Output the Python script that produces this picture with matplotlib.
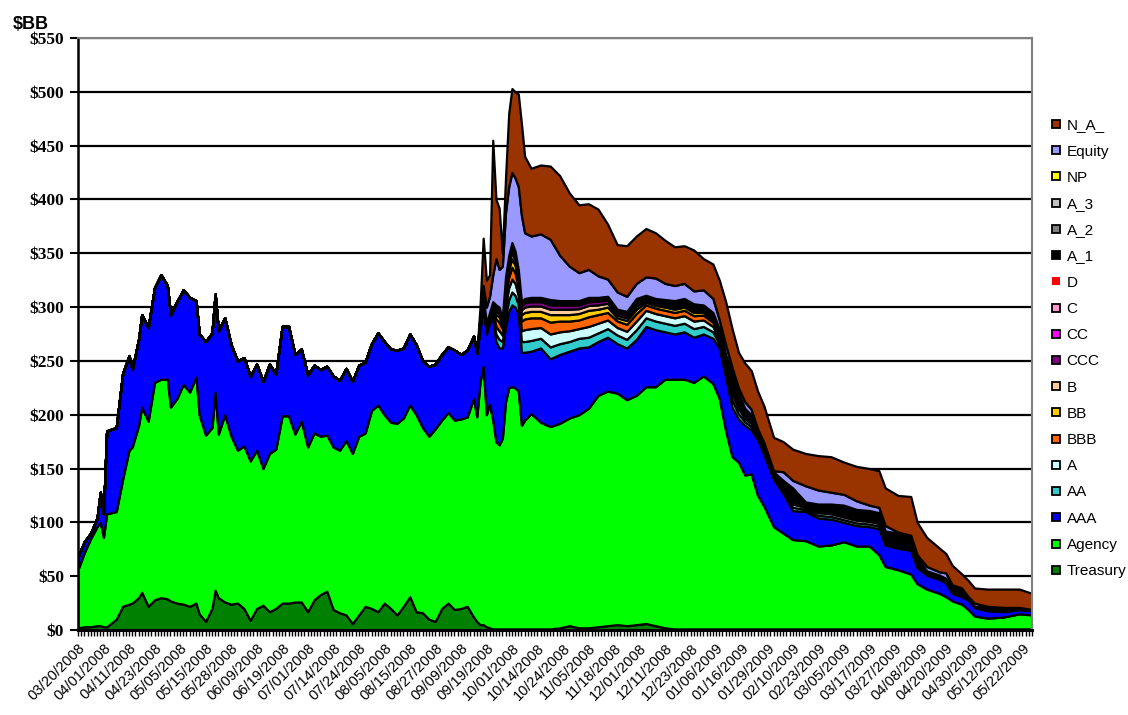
import numpy as np
import matplotlib
matplotlib.use("Agg")
import matplotlib.pyplot as plt
from matplotlib.lines import Line2D

# business-day number (0 = 03/20/2008) of each sampled point
day = [0, 2, 4, 6, 7, 8, 9, 12, 14, 16, 17, 19, 20, 22, 24, 26, 28, 29,
       31, 33, 35, 37, 38, 40, 42, 43, 44, 46, 48,
       50, 52, 54, 56, 58, 60, 62, 64, 66, 68, 70, 72, 74, 76, 78, 80, 82, 84, 86,
       88, 90, 92, 94, 96, 98, 100, 102, 104, 106, 108, 110, 112, 114, 116, 118, 120, 122,
       124, 125, 126, 127, 128, 129, 130, 131, 132, 133, 134, 135, 136, 137, 138, 139, 140,
       142, 145, 148, 151, 154, 157, 160, 163, 166, 169, 172, 175, 178, 181, 184, 187,
       190, 193, 196, 199,
       201, 203, 205, 207, 209, 211, 213, 215,
       218, 221, 224,
       228, 232, 236, 240, 244, 248,
       251, 253, 257, 261, 263, 266, 270, 272, 274, 277, 279, 281, 285, 290, 295, 299]
n_days = 300

tick_labels = ["03/20/2008", "04/01/2008", "04/11/2008", "04/23/2008", "05/05/2008",
               "05/15/2008", "05/28/2008", "06/09/2008", "06/19/2008", "07/01/2008",
               "07/14/2008", "07/24/2008", "08/05/2008", "08/15/2008", "08/27/2008",
               "09/09/2008", "09/19/2008", "10/01/2008", "10/14/2008", "10/24/2008",
               "11/05/2008", "11/18/2008", "12/01/2008", "12/11/2008", "12/23/2008",
               "01/06/2009", "01/16/2009", "01/29/2009", "02/10/2009", "02/23/2009",
               "03/05/2009", "03/17/2009", "03/27/2009", "04/08/2009", "04/20/2009",
               "04/30/2009", "05/12/2009", "05/22/2009"]

# $BB, bottom to top
treasury = [2, 3, 3, 4, 4, 3, 3, 10, 22, 24, 25, 30, 35, 22, 28, 30, 29, 27,
            25, 24, 22, 25, 15, 8, 20, 37, 30, 26, 24,
            25, 20, 9, 20, 23, 17, 20, 25, 25, 26, 26, 17, 28, 33, 36, 19, 16, 14, 6,
            14, 22, 20, 17, 25, 20, 14, 22, 31, 17, 16, 10, 8, 20, 25, 19, 20, 22,
            12, 8, 5, 5, 3, 2, 1, 1, 1, 1, 1, 1, 1, 1, 1, 1, 1,
            1, 1, 1, 2, 4, 2, 2, 3, 4, 5, 4, 5, 6, 4, 2, 1, 1, 1, 1, 1,
            1, 1, 1, 1, 1, 1, 1, 1,
            1, 1, 1,
            1, 1, 1, 1, 1, 1,
            1, 1, 1, 1, 1, 1, 1, 1, 1, 1, 1, 1, 1, 1, 1, 1]
agency = [54, 69, 82, 92, 96, 83, 105, 100, 118, 143, 145, 160, 172, 172, 202, 203, 204, 180,
          190, 204, 199, 210, 185, 173, 168, 184, 152, 174, 156,
          142, 151, 148, 147, 127, 147, 148, 174, 174, 156, 168, 153, 155, 147, 145, 151, 151,
          162, 158, 166, 161, 184, 192, 175, 173, 178, 175, 178, 183, 172, 170, 179, 175, 177,
          176, 176, 176,
          203, 190, 225, 240, 197, 208, 194, 174, 171, 177, 211, 224, 225, 224, 221, 189, 194,
          200, 192, 188, 190, 193, 198, 204, 215, 218, 215, 210, 213, 220, 222, 231, 232,
          232, 229, 235, 228,
          214, 184, 160, 155, 143, 144, 124, 114,
          95, 89, 83,
          82, 77, 78, 81, 77, 77,
          69, 58, 55, 51, 42, 37, 33, 30, 26, 23, 18, 12, 10, 11, 14, 13]
aaa = [12, 10, 5, 8, 28, 22, 77, 78, 98, 88, 72, 80, 86, 87, 88, 97, 87, 86,
       90, 88, 88, 71, 75, 87, 88, 91, 96, 90, 85,
       83, 82, 79, 80, 81, 83, 70, 83, 83, 74, 67, 67, 63, 62, 64, 66, 65, 67, 67,
       66, 66, 62, 67, 68, 68, 68, 65, 66, 65, 62, 65, 60, 61, 61, 65, 60, 62,
       58, 59, 50, 55, 75, 75, 95, 93, 90, 84, 70, 71, 76, 75, 72, 68, 63,
       58, 69, 63, 64, 62, 62, 57, 50, 50, 46, 48, 52, 56, 53, 44, 42, 44, 42, 39, 42,
       47, 50, 46, 40, 46, 41, 52, 48,
       44, 37, 27,
       27, 26, 24, 18, 19, 18,
       24, 20, 20, 22, 15, 13, 13, 13, 7, 7, 9, 8, 7, 5, 4, 4]

# the rated / paper buckets only show up from mid-September 2008
pre = [0] * 66
aa = pre + [0, 0, 1, 2, 2, 2, 3, 7, 8, 6, 10, 11, 12, 11, 8.5, 10, 10,
            10, 9, 11, 10, 9, 9, 9, 8, 8, 8, 8, 9, 8, 8, 8, 8, 8, 8, 7, 6,
            4, 5, 7, 5, 3.5, 3, 1.5, 2,
            1.5, 2.5, 3,
            2, 2.5, 2.5, 2.5, 2.5, 2.5,
            2.5, 2, 2, 2, 1.5, 0.7, 0.7, 0.7, 1.2, 1.2, 0.4, 0.2, 0.5, 0.5, 0.2, 0.2]
a = pre + [0, 0, 1, 2, 2, 2, 3, 7, 8, 6, 10, 11, 12, 11, 8.5, 10, 11,
           11, 10, 12, 11, 10, 9, 10, 9, 8, 7, 7.5, 8, 7, 7, 7, 7, 7, 7, 6, 5,
           4, 4, 6, 5, 3, 3, 1, 2,
           1.5, 2.5, 3,
           2, 2.5, 2.5, 2.5, 2.5, 2.5,
           2.5, 2, 2, 2, 1.5, 0.6, 0.6, 0.6, 1.1, 1.1, 0.3, 0.2, 0.5, 0.5, 0.2, 0.2]
bbb = pre + [0, 0, 1, 2, 2, 2, 3, 7, 8, 6, 9, 10, 11, 10, 8, 9, 10,
             10, 9, 11, 10, 9, 8, 9, 8, 7, 6, 6.5, 7, 5, 5, 5, 5, 5, 5, 4.5, 4,
             3, 3, 4, 3, 2, 1.5, 0.8, 1,
             0.8, 1.5, 2,
             1, 1.5, 1.5, 1.5, 1.5, 1.5,
             1.5, 1.2, 1.2, 1.2, 1, 0.4, 0.4, 0.4, 0.7, 0.7, 0.2, 0.1, 0.3, 0.3, 0.1, 0.1]
bb = pre + [0, 0, 0.5, 1, 1, 1, 2, 4, 5, 3, 6, 7, 8, 7, 5.5, 6, 6,
            6, 6, 7, 6, 6, 6, 6, 5, 5, 3, 3.5, 4, 2.5, 2.5, 3, 3, 3, 3, 2.5, 2,
            1.5, 1.5, 2, 1.5, 1, 1, 0.4, 0.5,
            0.4, 0.8, 1,
            0.5, 0.8, 0.8, 0.8, 0.8, 0.8,
            0.8, 0.7, 0.7, 0.7, 0.5, 0.2, 0.2, 0.2, 0.4, 0.4, 0.1, 0, 0.1, 0.1, 0, 0]
b = pre + [0, 0, 0.5, 1, 1, 1, 1.5, 3, 3, 2, 4, 5, 6, 5, 4, 4.5, 5,
           5, 5, 5, 5, 5, 4.5, 4.5, 4, 3.5, 2.5, 2.5, 3, 2, 2, 2, 2, 2, 2, 2, 1.5,
           1, 1, 1.5, 1, 1, 0.8, 0.3, 0.5,
           0.4, 0.6, 0.8,
           0.4, 0.6, 0.6, 0.6, 0.6, 0.6,
           0.6, 0.5, 0.5, 0.5, 0.4, 0.2, 0.2, 0.2, 0.3, 0.3, 0.1, 0, 0.1, 0.1, 0, 0]
ccc = pre + [0, 0, 0.5, 1, 1, 1, 1, 3, 3, 2, 4, 4.5, 5, 4.5, 3.5, 4, 4,
             4, 4, 4, 4, 4, 3.5, 3.5, 3.5, 3, 2.5, 2.5, 3, 1.5, 1.5, 1.5, 1.5, 1.5, 1.5, 1.5, 1.5,
             1, 1.5, 2, 1.5, 1, 1, 0.5, 0.7,
             0.6, 1, 1.5,
             0.8, 1.2, 1.2, 1.5, 1.5, 1.5,
             1.5, 1.2, 1.2, 1.2, 1, 0.5, 0.5, 0.5, 0.8, 0.8, 0.3, 0.2, 0.4, 0.4, 0.2, 0.2]
cc = pre + [0, 0, 0, 0, 0, 0, 0.5, 1, 1, 1, 1, 1, 1, 1, 1, 1, 1,
            1, 1, 1, 1, 1, 1, 1, 0.8, 0.8, 0.6, 0.6, 0.8, 0.5, 0.5, 0.5, 0.5, 0.5, 0.5, 0.5, 0.4,
            0.4, 0.5, 0.5, 0.5, 0.4, 0.3, 0.2, 0.2,
            0.2, 0.3, 0.4,
            0.3, 0.4, 0.4, 0.5, 0.5, 0.5,
            0.5, 0.4, 0.4, 0.4, 0.3, 0.1, 0.1, 0.1, 0.2, 0.2, 0.1, 0, 0.1, 0.1, 0, 0]
c = pre + [0, 0, 0, 0, 0, 0, 0, 0.5, 0.5, 0.5, 0.5, 0.5, 0.5, 0.5, 0.5, 0.5, 0.5,
           0.5, 0.5, 0.5, 0.5, 0.5, 0.5, 0.5, 0.5, 0.5, 0.4, 0.4, 0.5, 0.3, 0.3, 0.3, 0.3, 0.3, 0.3, 0.3, 0.3,
           0.3, 0.3, 0.3, 0.3, 0.2, 0.2, 0.1, 0.1,
           0.1, 0.2, 0.3,
           0.2, 0.2, 0.2, 0.3, 0.3, 0.3,
           0.3, 0.2, 0.2, 0.2, 0.2, 0.1, 0.1, 0.1, 0.1, 0.1, 0, 0, 0.1, 0.1, 0, 0]
d = pre + [0, 0, 0, 0, 0, 0, 0, 0, 0, 0, 0, 0, 0, 0, 0, 0, 0.3,
           0.3, 0.3, 0.3, 0.3, 0.3, 0.3, 0.3, 0.3, 0.3, 0.2, 0.2, 0.3, 0.2, 0.2, 0.2, 0.2, 0.2, 0.2, 0.2, 0.2,
           0.2, 0.2, 0.2, 0.2, 0.2, 0.2, 0.1, 0.1,
           0.1, 0.1, 0.2,
           0.1, 0.1, 0.1, 0.2, 0.2, 0.2,
           0.2, 0.2, 0.2, 0.2, 0.1, 0.1, 0.1, 0.1, 0.1, 0.1, 0, 0, 0, 0, 0, 0]
a_1 = pre + [0, 0, 0.5, 1, 1, 1, 1, 1.5, 1.5, 1.5, 1.5, 1.5, 2, 1.5, 1, 1.5, 1.5,
             1.5, 1.5, 2, 1.5, 1.5, 1.5, 1.5, 1.2, 1.2, 1.2, 1.6, 1.6, 1.4, 1.4, 1.8, 2.8, 2.8, 2.8, 1.8, 2.4,
             2, 3.4, 6.5, 5, 3, 2.6, 0.8, 1.5,
             1.1, 2.2, 8,
             1.4, 2.8, 3.8, 5, 4, 4,
             4, 4.2, 5.2, 3.2, 2.2, 0.9, 0.9, 0.9, 1.8, 1.8, 0.4, 0.2, 0.7, 0.7, 0.2, 0.2]
a_2 = pre + [0, 0, 0, 0, 0, 0, 0, 0, 0, 0, 0, 0.5, 0.5, 0.5, 0.5, 0.5, 0.5,
             0.5, 0.5, 0.8, 0.5, 0.5, 0.5, 0.5, 0.5, 0.5, 0.4, 0.5, 0.6, 0.4, 0.4, 0.5, 0.5, 0.5, 0.5, 0.5, 0.5,
             0.4, 0.4, 0.6, 0.6, 0.3, 0.2, 0.1, 0.2,
             0.1, 0.1, 0.4,
             0.1, 0.2, 0.2, 0.3, 0.3, 0.3,
             0.3, 0.2, 0.2, 0.2, 0.1, 0, 0, 0, 0.1, 0.1, 0, 0, 0.1, 0.1, 0, 0]
a_3 = pre + [0, 0, 0, 0, 0, 0, 0, 0, 0, 0, 0, 0, 0, 0, 0, 0, 0.2,
             0.2, 0.2, 0.2, 0.2, 0.2, 0.2, 0.2, 0.2, 0.2, 0.2, 0.2, 0.2, 0.2, 0.2, 0.2, 0.2, 0.2, 0.2, 0.2, 0.2,
             0.2, 0.2, 0.3, 0.3, 0.3, 0.1, 0.1, 0.1,
             0.1, 0.1, 0.3,
             0.1, 0.1, 0.1, 0.2, 0.2, 0.2,
             0.2, 0.1, 0.1, 0.1, 0.1, 0.1, 0.1, 0.1, 0.1, 0.1, 0.1, 0.1, 0.1, 0.1, 0.1, 0.1]
np_paper = pre + [0, 0, 0, 0, 0, 0, 0, 0, 0, 0, 0, 0, 0, 0, 0, 0, 0,
                  0, 0, 0.2, 0, 0, 0, 0, 0, 0, 0, 0, 0, 0, 0, 0, 0, 0, 0, 0, 0,
                  0, 0, 0.1, 0.1, 0.1, 0.1, 0.1, 0.1,
                  0.1, 0.1, 0.1,
                  0.1, 0.1, 0.1, 0.1, 0.1, 0.1,
                  0.1, 0.1, 0.1, 0.1, 0.1, 0.1, 0.1, 0.1, 0.1, 0.1, 0, 0, 0, 0, 0, 0]
equity = pre + [0, 0, 5, 10, 15, 15, 25, 43, 35, 48, 60, 64, 65, 68, 77, 80, 61,
                57, 59, 56, 42, 32, 26, 26, 20, 16, 16, 14, 14, 17, 19, 15, 14, 14, 12, 14, 13,
                8, 9, 6, 5, 6, 5, 4, 2,
                1, 8, 7,
                15, 13, 11, 10, 8, 5,
                5, 5, 1, 2, 3, 4, 3, 5, 1, 1, 1, 3, 1, 1, 1, 0]
n_a = pre + [0, 0, 10, 44, 25, 20, 125, 55, 57, 12, 32, 68, 78, 80, 86, 85, 71,
             63, 64, 68, 74, 68, 63, 61, 62, 51, 44, 47, 44, 45, 42, 40, 36, 35, 38, 29, 32,
             37, 40, 36, 33, 36, 36, 35, 34,
             31, 28, 29,
             30, 32, 33, 30, 32, 34,
             34, 35, 34, 36, 30, 27, 22, 18, 18, 13, 15, 14, 16, 17, 17, 15]

names = ["Treasury", "Agency", "AAA", "AA", "A", "BBB", "BB", "B", "CCC", "CC", "C", "D",
         "A_1", "A_2", "A_3", "NP", "Equity", "N_A_"]
series = [treasury, agency, aaa, aa, a, bbb, bb, b, ccc, cc, c, d,
          a_1, a_2, a_3, np_paper, equity, n_a]
colors = ["#008000", "#00FF00", "#0000FF", "#33CCCC", "#CCFFFF", "#FF6600", "#FFCC00",
          "#FFCC99", "#800080", "#FF00FF", "#FF99CC", "#FF0000", "#000000", "#808080",
          "#C0C0C0", "#FFFF00", "#9999FF", "#993300"]

fig = plt.figure(figsize=(11.28, 7.15), dpi=100)
ax = fig.add_axes([0.0691, 0.1189, 0.8458, 0.828])

polys = ax.stackplot(day, np.array(series, dtype=float), colors=colors,
                     edgecolor="black", linewidth=1.6, zorder=2)
polys[names.index("D")].set_edgecolor("none")

ax.set_xlim(0, n_days - 1)
ax.set_ylim(0, 550)
ax.set_axisbelow(True)
ax.yaxis.grid(True, color="black", linewidth=1.6, zorder=0)

ax.set_yticks(np.arange(0, 551, 50))
ax.set_yticklabels(["$%d" % v for v in range(0, 551, 50)],
                   family="Liberation Serif", fontweight="bold", fontsize=12.5)
ax.tick_params(axis="y", direction="out", length=6, width=1.5, pad=4)

ax.set_xticks(np.arange(len(tick_labels)) * 8)
ax.set_xticks(np.arange(n_days), minor=True)
ax.set_xticklabels(tick_labels, rotation=45, ha="right", rotation_mode="anchor",
                   family="Liberation Sans", fontsize=10.5)
ax.tick_params(axis="x", which="both", direction="out", length=4, width=1, pad=4)

for side in ["top", "right"]:
    ax.spines[side].set_color("#808080")
    ax.spines[side].set_linewidth(1.5)
ax.spines["left"].set_linewidth(1.8)
ax.spines["bottom"].set_linewidth(2.2)

fig.text(0.011, 0.978, "$BB", family="Liberation Sans", fontweight="bold",
         fontsize=13, va="top", ha="left")

handles = []
for name, col in zip(names[::-1], colors[::-1]):
    edge = "none" if name == "D" else "black"
    handles.append(Line2D([], [], linestyle="none", marker="s", markersize=6,
                          markerfacecolor=col, markeredgecolor=edge, markeredgewidth=1.3))
fig.legend(handles, names[::-1], loc="upper left", bbox_to_anchor=(0.926, 0.843),
           frameon=False, prop={"family": "Liberation Sans", "size": 11},
           handlelength=0.7, handletextpad=0.35, labelspacing=0.8, borderaxespad=0)

fig.savefig("out.png", dpi=100)
